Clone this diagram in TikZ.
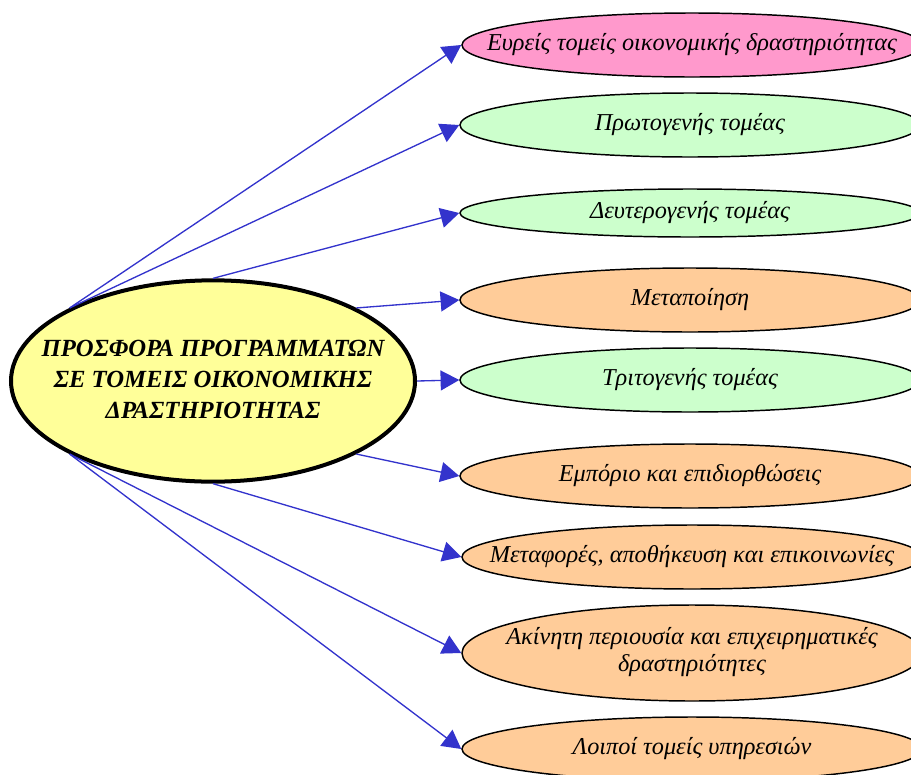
\documentclass[tikz,border=0pt]{standalone}
\usepackage{fontspec}
\setmainfont{Liberation Serif}
\usetikzlibrary{arrows.meta,shapes.geometric}
\definecolor{Lemon}{HTML}{FFFF99}
\definecolor{Rose}{HTML}{FF99CC}
\definecolor{Pale}{HTML}{CCFFCC}
\definecolor{Peach}{HTML}{FFCC99}
\definecolor{Indigo}{HTML}{3333CC}
\newcommand{\nowidth}[1]{\makebox[0pt]{\begin{tabular}{@{}c@{}}#1\end{tabular}}}

\begin{document}
\begin{tikzpicture}[x=0.75pt,y=-0.75pt,
  hub/.style={ellipse,draw=black,line width=3pt,fill=Lemon,inner sep=0pt,
    minimum width=303pt,minimum height=151pt,font=\fontsize{18.5}{23.3}\selectfont\bfseries\itshape},
  sector/.style={ellipse,draw=black,line width=1.1pt,inner sep=0pt,
    minimum width=345pt,minimum height=48pt,font=\fontsize{18.2}{20.3}\selectfont\itshape},
  arrow/.style={-{Triangle[length=14pt,width=15pt]},line width=1pt,draw=Indigo}]
\useasboundingbox (0,0) rectangle (911,775);
\clip (0,0) rectangle (911,775);
\node[hub](offer) at (213,381){\nowidth{ΠΡΟΣΦΟΡΑ ΠΡΟΓΡΑΜΜΑΤΩΝ\\ΣΕ ΤΟΜΕΙΣ ΟΙΚΟΝΟΜΙΚΗΣ\\ΔΡΑΣΤΗΡΙΟΤΗΤΑΣ}};
\node[sector,fill=Rose](broad) at (692,45){\nowidth{Ευρείς τομείς οικονομικής δραστηριότητας}};
\node[sector,fill=Pale](primary) at (690,125){\nowidth{Πρωτογενής τομέας}};
\node[sector,fill=Pale,minimum height=36pt](secondary) at (690,213){\nowidth{Δευτερογενής τομέας}};
\node[sector,fill=Peach](manufact) at (690,300){\nowidth{Μεταποίηση}};
\node[sector,fill=Pale](tertiary) at (690,380){\nowidth{Τριτογενής τομέας}};
\node[sector,fill=Peach](trade) at (690,476){\nowidth{Εμπόριο και επιδιορθώσεις}};
\node[sector,fill=Peach](transport) at (692,557){\nowidth{Μεταφορές, αποθήκευση και επικοινωνίες}};
\node[sector,fill=Peach,minimum height=72pt](realestate) at (692,653){\nowidth{Ακίνητη περιουσία και επιχειρηματικές\\δραστηριότητες}};
\node[sector,fill=Peach](otherserv) at (692,749){\nowidth{Λοιποί τομείς υπηρεσιών}};
\draw[arrow](offer.153)--(broad.west);\draw[arrow](offer.153)--(primary.west);\draw[arrow](offer.north)--(secondary.west);
\draw[arrow](offer.27)--(manufact.west);\draw[arrow](offer.east)--(tertiary.west);\draw[arrow](offer.-27)--(trade.west);
\draw[arrow](offer.south)--(transport.west);\draw[arrow](offer.207)--(realestate.west);\draw[arrow](offer.207)--(otherserv.west);
\end{tikzpicture}
\end{document}
